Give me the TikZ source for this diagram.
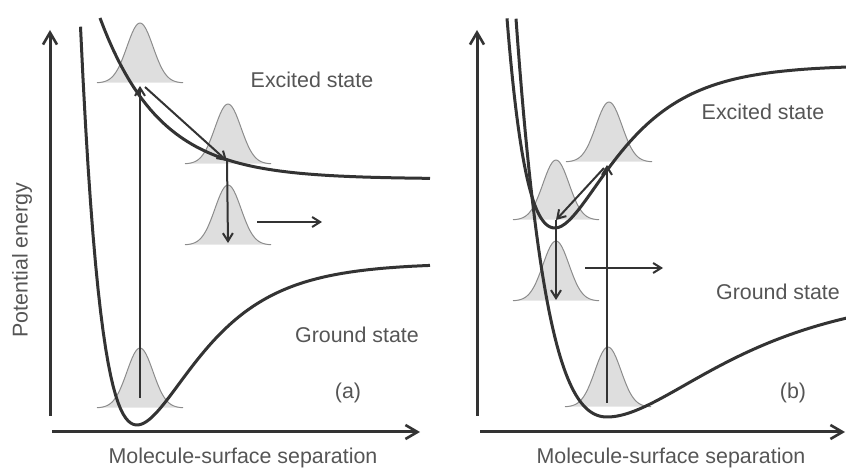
\documentclass[tikz,border=0pt]{standalone}
\usepackage{fontspec}
\setmainfont{Liberation Sans}
\usetikzlibrary{arrows.meta}
\definecolor{ink}{HTML}{333333}
\definecolor{textgray}{HTML}{555555}
\definecolor{wavefill}{HTML}{DEDEDE}
\definecolor{waveline}{HTML}{8C8C8C}
\tikzset{
  axis/.style={line width=1.5pt,draw=ink,-{Straight Barb[length=6pt,width=7pt,line width=1.3pt]}},
  curve/.style={line width=1.5pt,draw=ink,line join=round},
  trans/.style={line width=1pt,draw=ink,-{Straight Barb[length=4pt,width=5pt]}},
  label/.style={font=\fontsize{10.7}{12}\selectfont,text=textgray,inner sep=0pt},
  wave/.pic={
    \fill[wavefill] plot[domain=-43:43,samples=50] (\x,{-60*exp(-(\x/13)*(\x/13)/2)}) -- cycle;
    \draw[waveline,line width=0.5pt] plot[domain=-43:43,samples=50] (\x,{-60*exp(-(\x/13)*(\x/13)/2)});
  }
}

\begin{document}
\begin{tikzpicture}[x=0.5pt,y=-0.5pt,
  declare function={mo(\u,\m,\k)=(1-exp(-\k*(\u-\m)))*(1-exp(-\k*(\u-\m)));}]
\useasboundingbox (0,0) rectangle (846,475);

\pic at (140,83) {wave};
\pic at (228,164) {wave};
\pic at (228,245) {wave};
\pic at (140,408) {wave};
\pic at (556,220) {wave};
\pic at (609,162) {wave};
\pic at (556,301) {wave};
\pic at (608,407) {wave};

\draw[curve] plot[domain=100:430,samples=80] (\x,{179-161*exp(-0.0167*(\x-100))});
\draw[curve] plot[domain=80.5:430,samples=140] (\x,{425-162*mo(\x,137,0.0167)});
\draw[curve] plot[domain=507:555,samples=40] (\x,{228-163*mo(\x,555,0.0158)})
  -- plot[domain=555:847,samples=90] (\x,{228-163*mo(\x,555,0.01737)});
\draw[curve] plot[domain=516:607,samples=50] (\x,{417-127*mo(\x,607,0.0112)})
  -- plot[domain=607:847,samples=90] (\x,{417-127*mo(\x,607,0.00894)});

\coordinate (a-low) at (140,398);
\coordinate (a-top) at (140,86);
\coordinate (a-kick) at (145,87);
\coordinate (a-cross) at (227,161);
\coordinate (a-drop) at (228,243);
\coordinate (a-fly0) at (257,222);
\coordinate (a-fly1) at (322,222);
\coordinate (b-low) at (607,403);
\coordinate (b-top) at (607,165);
\coordinate (b-kick) at (604,168);
\coordinate (b-cross) at (556,220);
\coordinate (b-drop) at (556,300);
\coordinate (b-fly0) at (585,268);
\coordinate (b-fly1) at (663,268);

\draw[trans] (a-low) -- (a-top);
\draw[trans] (a-kick) -- (a-cross);
\draw[trans] (a-cross) -- (a-drop);
\draw[trans] (a-fly0) -- (a-fly1);
\draw[trans] (b-low) -- (b-top);
\draw[trans] (b-kick) -- (b-cross);
\draw[trans] (b-cross) -- (b-drop);
\draw[trans] (b-fly0) -- (b-fly1);

\coordinate (a-y0) at (50,416);
\coordinate (a-y1) at (50,30);
\coordinate (a-x0) at (52,432);
\coordinate (a-x1) at (420,432);
\coordinate (b-y0) at (477,416);
\coordinate (b-y1) at (477,30);
\coordinate (b-x0) at (480,432);
\coordinate (b-x1) at (845,432);
\draw[axis] (a-y0) -- (a-y1);
\draw[axis] (a-x0) -- (a-x1);
\draw[axis] (b-y0) -- (b-y1);
\draw[axis] (b-x0) -- (b-x1);

\node[label,rotate=90] (energy) at (22,260) {Potential energy};
\node[label] (sepA) at (243,458) {Molecule-surface separation};
\node[label] (sepB) at (671,458) {Molecule-surface separation};
\node[label] (excA) at (312,80) {Excited state};
\node[label] (gndA) at (357,335) {Ground state};
\node[label] (tagA) at (348,393) {(a)};
\node[label] (excB) at (763,112) {Excited state};
\node[label] (gndB) at (778,292) {Ground state};
\node[label] (tagB) at (793,393) {(b)};
\end{tikzpicture}
\end{document}
